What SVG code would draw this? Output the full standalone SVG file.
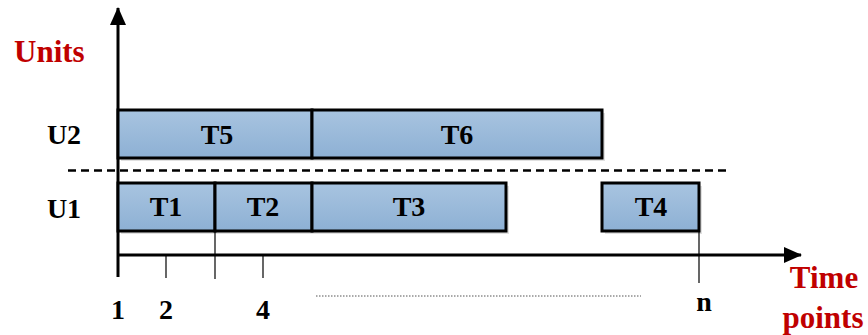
<svg xmlns="http://www.w3.org/2000/svg" width="868" height="335" viewBox="0 0 868 335">
<defs>
<linearGradient id="g" x1="0" y1="0" x2="0" y2="1">
<stop offset="0" stop-color="#a8c4e0"/>
<stop offset="1" stop-color="#8db0d4"/>
</linearGradient>
<marker id="ah" markerWidth="18" markerHeight="18" viewBox="0 0 18 18" refX="17" refY="9" orient="auto" markerUnits="userSpaceOnUse">
<path d="M0,1 L18,9 L0,17 Z" fill="#000"/>
</marker>
</defs>
<style>
.box{fill:url(#g);stroke:#000;stroke-width:3}
.shadow{fill:#000;opacity:0.12}
text{font-family:"Liberation Serif","Times New Roman",serif;font-weight:bold}
.lbl{font-size:28px;fill:#000;text-anchor:middle}
.red{font-size:31px;fill:#c00000}
.axis{stroke:#000;stroke-width:3;fill:none}
.tick{stroke:#000;stroke-width:1.2}
</style>
<g id="connectors">
<line class="axis" x1="118" y1="277" x2="118" y2="8" marker-end="url(#ah)"/>
<line class="axis" x1="118" y1="255" x2="801" y2="255" marker-end="url(#ah)"/>
<line x1="68" y1="170.5" x2="726" y2="170.5" stroke="#000" stroke-width="2.5" stroke-dasharray="8,5"/>
<line class="tick" x1="166" y1="256" x2="166" y2="278"/>
<line class="tick" x1="215" y1="231" x2="215" y2="279"/>
<line class="tick" x1="263" y1="256" x2="263" y2="278"/>
<line class="tick" x1="699" y1="231" x2="699" y2="283"/>
<line x1="316" y1="296" x2="641" y2="296" stroke="#555" stroke-width="1" stroke-dasharray="1.5,1.5"/>
</g>
<g id="T5"><rect class="shadow" x="121" y="113" width="194" height="48"/><rect class="box" x="118" y="110" width="194" height="48"/><text class="lbl" x="217" y="144" font-family="Liberation Serif, serif">T5</text></g>
<g id="T6"><rect class="shadow" x="315" y="113" width="290" height="48"/><rect class="box" x="312" y="110" width="290" height="48"/><text class="lbl" x="457" y="144" font-family="Liberation Serif, serif">T6</text></g>
<g id="T1"><rect class="shadow" x="121" y="186" width="97" height="48"/><rect class="box" x="118" y="183" width="97" height="48"/><text class="lbl" x="166" y="216" font-family="Liberation Serif, serif">T1</text></g>
<g id="T2"><rect class="shadow" x="218" y="186" width="97" height="48"/><rect class="box" x="215" y="183" width="97" height="48"/><text class="lbl" x="263" y="216" font-family="Liberation Serif, serif">T2</text></g>
<g id="T3"><rect class="shadow" x="315" y="186" width="194" height="48"/><rect class="box" x="312" y="183" width="194" height="48"/><text class="lbl" x="409" y="216" font-family="Liberation Serif, serif">T3</text></g>
<g id="T4"><rect class="shadow" x="605" y="186" width="97" height="48"/><rect class="box" x="602" y="183" width="97" height="48"/><text class="lbl" x="651" y="216" font-family="Liberation Serif, serif">T4</text></g>
<g id="labels">
<text class="red" x="14" y="62" font-family="Liberation Serif, serif">Units</text>
<text class="lbl" x="64" y="144" font-family="Liberation Serif, serif">U2</text>
<text class="lbl" x="64" y="218" font-family="Liberation Serif, serif">U1</text>
<text class="lbl" x="118" y="319" font-family="Liberation Serif, serif">1</text>
<text class="lbl" x="166" y="319" font-family="Liberation Serif, serif">2</text>
<text class="lbl" x="263" y="319" font-family="Liberation Serif, serif">4</text>
<text class="lbl" x="704" y="311" font-family="Liberation Serif, serif">n</text>
<text class="red" x="824" y="288" text-anchor="middle" font-family="Liberation Serif, serif">Time</text>
<text class="red" x="823" y="328" text-anchor="middle" font-family="Liberation Serif, serif">points</text>
</g>
</svg>
